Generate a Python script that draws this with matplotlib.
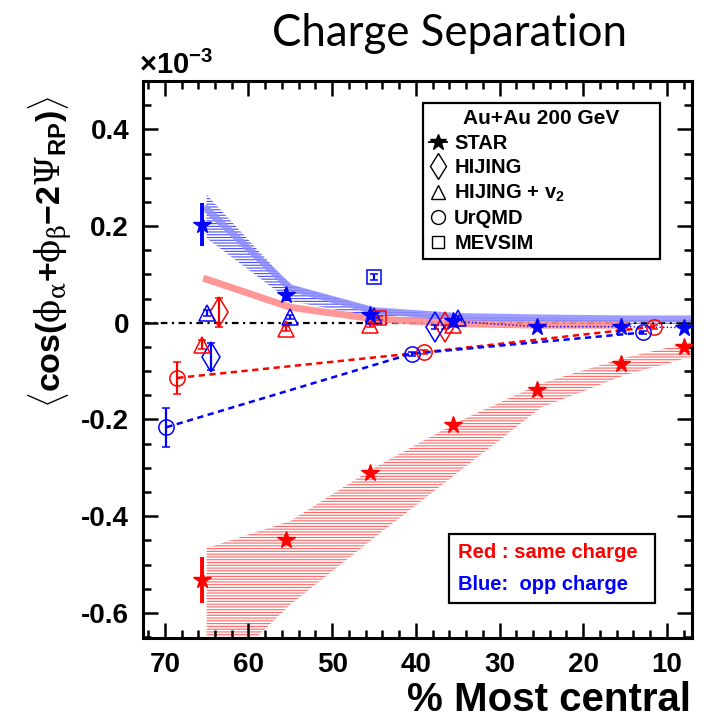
import matplotlib
matplotlib.use('Agg')
import matplotlib.pyplot as plt
from matplotlib.lines import Line2D
from matplotlib.ticker import MultipleLocator

plt.rcParams['font.family'] = ['Liberation Sans', 'DejaVu Sans']
plt.rcParams['mathtext.fontset'] = 'custom'
plt.rcParams['mathtext.rm'] = 'Liberation Sans:bold'
plt.rcParams['mathtext.it'] = 'DejaVu Serif'
plt.rcParams['mathtext.sf'] = 'DejaVu Serif'
plt.rcParams['mathtext.bf'] = 'Liberation Sans:bold'
plt.rcParams['hatch.linewidth'] = 0.8

# STAR data, units of 1e-3
star_x = [65.5, 55.5, 45.5, 35.5, 25.5, 15.5, 8]
star_same = [-0.532, -0.449, -0.311, -0.211, -0.139, -0.085, -0.050]
star_same_err = [0.048, 0.010, 0.008, 0.006, 0.005, 0.004, 0.004]
star_opp = [0.203, 0.058, 0.017, 0.003, -0.008, -0.008, -0.010]
star_opp_err = [0.045, 0.012, 0.006, 0.005, 0.004, 0.004, 0.004]

# systematic bands
band_x = [65, 55, 45, 35, 25, 15, 7]
same_band_hi = [-0.466, -0.41, -0.30, -0.205, -0.125, -0.072, -0.040]
same_band_lo = [-0.75, -0.583, -0.445, -0.31, -0.175, -0.108, -0.070]
opp_band_hi = [0.265, 0.078, 0.030, 0.015, 0.010, 0.008, 0.008]
opp_band_lo = [0.175, 0.045, 0.012, 0.004, 0.0, -0.002, -0.002]
opp_line = [0.235, 0.072, 0.025, 0.013, 0.010, 0.008, 0.008]
same_line_x = [65, 55, 45, 35, 25, 15]
same_line = [0.090, 0.032, 0.008, -0.002, -0.005, -0.005]

# models
hij_same_x = [63.5, 36.5]
hij_same = [0.022, -0.008]
hij_same_err = [0.030, 0.004]
hij_opp_x = [64.5, 37.7]
hij_opp = [-0.070, -0.008]
hij_opp_err = [0.028, 0.004]

hv2_same_x = [65.5, 55.5, 45.5, 35.5]
hv2_same = [-0.045, -0.012, -0.004, -0.004]
hv2_same_err = [0.010, 0.006, 0.005, 0.005]
hv2_opp_x = [65, 55, 45, 35]
hv2_opp = [0.021, 0.012, 0.015, 0.010]
hv2_opp_err = [0.006, 0.005, 0.005, 0.005]

urq_same_x = [68.5, 39, 11.5]
urq_same = [-0.114, -0.061, -0.008]
urq_same_err = [0.033, 0.004, 0.004]
urq_opp_x = [69.8, 40.5, 12.8]
urq_opp = [-0.216, -0.064, -0.020]
urq_opp_err = [0.040, 0.004, 0.004]

mev_same_x = [44.4]
mev_same = [0.010]
mev_opp_x = [45]
mev_opp = [0.095]

xticks = [70, 60, 50, 40, 30, 20, 10]
yticks = [-0.6, -0.4, -0.2, 0, 0.2, 0.4]
ytick_labels = ['-0.6', '-0.4', '-0.2', '0', '0.2', '0.4']

RED = (1, 0, 0)
BLUE = (0, 0, 1)

fig = plt.figure(figsize=(7.09, 7.28), dpi=100)
ax = fig.add_axes([0.2017, 0.1236, 0.7743, 0.7651])

ax.fill_between(band_x, same_band_lo, same_band_hi, facecolor='none',
                edgecolor=(1, 0.4, 0.4), hatch='------', lw=0, zorder=1)
ax.fill_between(band_x, opp_band_lo, opp_band_hi, facecolor='none',
                edgecolor=(0.3, 0.3, 1), hatch='------', lw=0, zorder=1)
ax.axhline(0, color='k', lw=1.6, ls=(0, (3, 2, 1, 2)), zorder=1.5)
ax.plot(band_x, opp_line, color=(0.55, 0.55, 1), lw=5, alpha=0.85, zorder=2)
ax.plot(same_line_x, same_line, color=(1, 0.55, 0.55), lw=5, alpha=0.9, zorder=2)
ax.plot(star_x[3:], star_opp[3:], color=BLUE, lw=1, ls=':', zorder=2)

ax.plot(urq_same_x, urq_same, color=RED, lw=1.8, dashes=(2.5, 1.8), zorder=3)
ax.plot(urq_opp_x, urq_opp, color=BLUE, lw=1.8, dashes=(2.5, 1.8), zorder=3)

def open_pts(x, y, err, marker, color, ms):
    ax.errorbar(x, y, yerr=err, fmt=marker, mfc='none', mec=color, ecolor=color,
                ms=ms, mew=1.1, elinewidth=1.6, capsize=3, capthick=1.6, zorder=4)

open_pts(hij_same_x, hij_same, hij_same_err, 'd', RED, 15)
open_pts(hij_opp_x, hij_opp, hij_opp_err, 'd', BLUE, 15)
open_pts(hv2_same_x, hv2_same, hv2_same_err, '^', RED, 11)
open_pts(hv2_opp_x, hv2_opp, hv2_opp_err, '^', BLUE, 11)
open_pts(urq_same_x, urq_same, urq_same_err, 'o', RED, 11)
open_pts(urq_opp_x, urq_opp, urq_opp_err, 'o', BLUE, 11)
open_pts(mev_same_x, mev_same, [0.004], 's', RED, 10)
open_pts(mev_opp_x, mev_opp, [0.006], 's', BLUE, 10)

ax.errorbar(star_x, star_same, yerr=star_same_err, fmt='*', color=RED, ms=13,
            elinewidth=2.8, capsize=0, zorder=5)
ax.errorbar(star_x, star_opp, yerr=star_opp_err, fmt='*', color=BLUE, ms=13,
            elinewidth=2.8, capsize=0, zorder=5)

ax.set_xlim(72.6, 7)
ax.set_ylim(-0.652, 0.5)
ax.set_xticks(xticks, labels=[str(v) for v in xticks], fontsize=20, fontweight='bold')
ax.set_yticks(yticks, labels=ytick_labels, fontsize=20, fontweight='bold')
ax.xaxis.set_minor_locator(MultipleLocator(2))
ax.yaxis.set_minor_locator(MultipleLocator(0.05))
ax.tick_params(which='both', direction='in', top=True, right=True, width=1.8)
ax.tick_params(which='major', length=11)
ax.tick_params(which='minor', length=5.5)
ax.tick_params(axis='y', pad=10)
ax.tick_params(axis='x', pad=10)
for s in ax.spines.values():
    s.set_linewidth(2.2)

handles = [
    Line2D([], [], color='k', marker='*', ms=12, ls='-', lw=1.3),
    Line2D([], [], color='k', marker='d', mfc='none', ms=13, ls='none', mew=1),
    Line2D([], [], color='k', marker='^', mfc='none', ms=10, ls='none', mew=1),
    Line2D([], [], color='k', marker='o', mfc='none', ms=10, ls='none', mew=1),
    Line2D([], [], color='k', marker='s', mfc='none', ms=9, ls='none', mew=1),
]
labels = ['STAR', 'HIJING', 'HIJING + v$_2$', 'UrQMD', 'MEVSIM']
leg = ax.legend(handles, labels, title='Au+Au 200 GeV', loc='upper left',
                bbox_to_anchor=(0.510, 0.679, 0.432, 0.281), mode='expand',
                borderaxespad=0, fancybox=False, edgecolor='k', framealpha=1,
                prop={'weight': 'bold', 'size': 14.5},
                title_fontproperties={'weight': 'bold', 'size': 15},
                handlelength=0.9, handletextpad=0.35, labelspacing=0.27, borderpad=0.3)
leg.get_frame().set_linewidth(1.6)
ax.add_artist(leg)

leg2 = ax.legend([Line2D([], [], ls='none'), Line2D([], [], ls='none')],
                 ['Red : same charge', 'Blue:  opp charge'],
                 labelcolor=[RED, BLUE], loc='upper left',
                 bbox_to_anchor=(0.557, 0.063, 0.376, 0.124), mode='expand',
                 borderaxespad=0, fancybox=False, edgecolor='k', framealpha=1,
                 prop={'weight': 'bold', 'size': 14.5},
                 handlelength=0, handletextpad=0, labelspacing=0.65, borderpad=0.45)
leg2.get_frame().set_linewidth(1.6)

fig.text(449 / 709, 1 - 33 / 728, 'Charge Separation', family='Lato', fontsize=31.5,
         ha='center', va='center')
fig.text(139 / 709, 1 - 80 / 728, '×10$^{-3}$', ha='left', va='bottom',
         fontsize=21, fontweight='bold')
fig.text(691 / 709, 1 - 700 / 728, '% Most central', ha='right', va='center',
         fontsize=29, fontweight='bold')
fig.text(50 / 709, 1 - 95 / 728,
         r'$\langle\cos(\phi_{\alpha}{+}\phi_{\beta}{-}2\mathsf{\Psi}_{\mathrm{RP}})\rangle$',
         rotation=90, ha='center', va='top', fontsize=24.5)

fig.savefig('out.png', dpi=100)
